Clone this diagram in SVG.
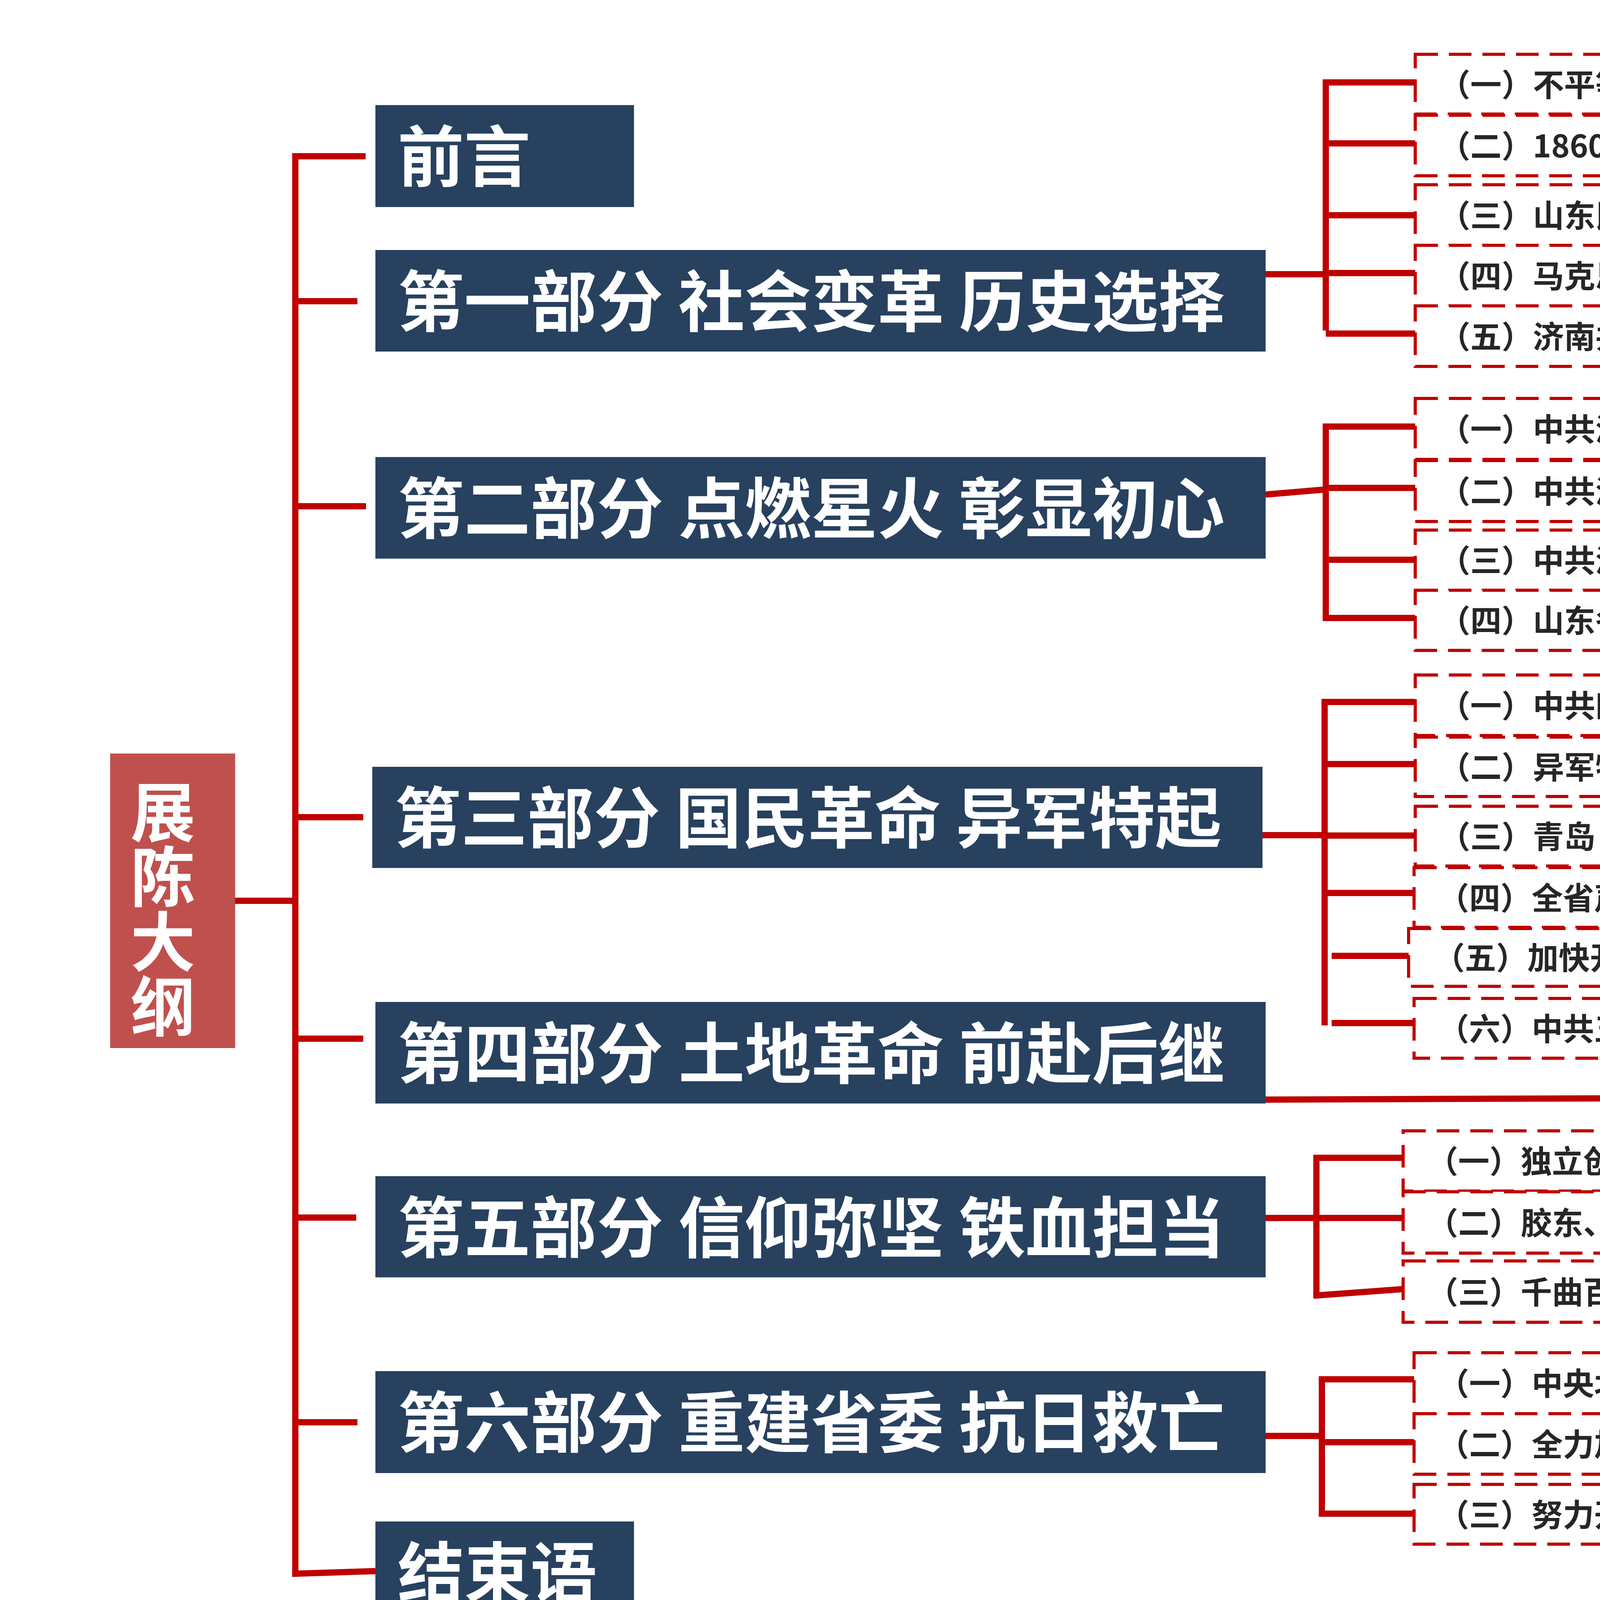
<svg xmlns="http://www.w3.org/2000/svg" width="7681" height="4320" viewBox="0 0 7681 4320">
<style>
.hdr{fill:#27415F}
.ht{font-family:"Noto Sans CJK SC","Noto Sans",sans-serif;font-weight:700;font-size:170px;fill:#FFFFFF}
.root{fill:#C0504D}
.rt{font-family:"Noto Sans CJK SC","Noto Sans",sans-serif;font-weight:700;font-size:166px;fill:#FFFFFF;writing-mode:vertical-rl}
.sub{fill:#FFFFFF;stroke:#C00000;stroke-width:8;stroke-dasharray:58 28}
.st{font-family:"Noto Sans CJK SC","Noto Sans",sans-serif;font-weight:700;font-size:80px;fill:#262626}
.ln{stroke:#C00000;stroke-width:16;fill:none}
</style>
<rect width="7681" height="4320" fill="#FFFFFF"/>
<g id="connectors" class="ln">
<path d="M602,2306 H756"/>
<path d="M756,392 V4036"/>
<path d="M748,400 H936"/>
<path d="M756,771 H915"/>
<path d="M756,1296 H937"/>
<path d="M756,2092 H930"/>
<path d="M756,2659 H930"/>
<path d="M756,3117 H912"/>
<path d="M756,3641 H915"/>
<path d="M748,4029 L961,4022"/>
<path d="M3240,702 H3394"/>
<path d="M3394,203 V846"/>
<path d="M3386,211 H3623 M3394,367 H3623 M3394,551 H3623 M3394,699 H3623 M3394,854 H3623"/>
<path d="M3240,1266 L3394,1253"/>
<path d="M3394,1084 V1590"/>
<path d="M3386,1092 H3623 M3394,1249 H3623 M3394,1433 H3623 M3394,1582 H3623"/>
<path d="M3231,2138 H3391"/>
<path d="M3391,1789 V2625"/>
<path d="M3383,1797 H3623 M3391,1956 H3623 M3391,2139 H3623 M3391,2286 H3620 M3409,2447 H3606 M3409,2619 H3620"/>
<path d="M3240,2815 L5381,2807"/>
<path d="M5381,2384 V3050"/>
<path d="M5373,2399 H5602 M5381,2555 H5602 M5381,2740 H5602 M5381,2888 H5602 M5381,3042 H5602"/>
<path d="M3240,3118 H3370"/>
<path d="M3370,2956 V3320"/>
<path d="M3362,2964 H3592 M3370,3118 H3592 M3362,3317 L3592,3300"/>
<path d="M3240,3676 H3384"/>
<path d="M3384,3523 V3883"/>
<path d="M3376,3531 H3620 M3384,3692 H3620 M3376,3875 H3620"/>
</g>
<g id="root">
<rect class="root" x="282" y="1929" width="320" height="754"/>
<text class="rt" x="417" y="1995">展陈大纲</text>
</g>
<g id="h0"><rect class="hdr" x="961" y="269" width="662" height="261"/><text class="ht" x="1018" y="464">前言</text></g>
<g id="h1"><rect class="hdr" x="961" y="640" width="2279" height="260"/><text class="ht" x="1018" y="835">第一部分 社会变革 历史选择</text></g>
<g id="h2"><rect class="hdr" x="961" y="1170" width="2279" height="260"/><text class="ht" x="1018" y="1365">第二部分 点燃星火 彰显初心</text></g>
<g id="h3"><rect class="hdr" x="953" y="1963" width="2279" height="259"/><text class="ht" x="1010" y="2157">第三部分 国民革命 异军特起</text></g>
<g id="h4"><rect class="hdr" x="961" y="2565" width="2279" height="260"/><text class="ht" x="1018" y="2760">第四部分 土地革命 前赴后继</text></g>
<g id="h5"><rect class="hdr" x="961" y="3011" width="2279" height="259"/><text class="ht" x="1018" y="3206">第五部分 信仰弥坚 铁血担当</text></g>
<g id="h6"><rect class="hdr" x="961" y="3510" width="2279" height="261"/><text class="ht" x="1018" y="3705">第六部分 重建省委 抗日救亡</text></g>
<g id="h7"><rect class="hdr" x="961" y="3895" width="662" height="261"/><text class="ht" x="1018" y="4090">结束语</text></g>
<g id="s1-1"><rect class="sub" x="3623" y="139" width="1714" height="153"/><text class="st" x="3684" y="246">（一）不平等条约下的经济社会</text></g>
<g id="s1-2"><rect class="sub" x="3623" y="295" width="1714" height="155"/><text class="st" x="3684" y="403">（二）1860年以来的山东工人阶级</text></g>
<g id="s1-3"><rect class="sub" x="3623" y="473" width="1714" height="155"/><text class="st" x="3684" y="581">（三）山东民众的“五四新觉醒”</text></g>
<g id="s1-4"><rect class="sub" x="3623" y="628" width="1714" height="155"/><text class="st" x="3684" y="736">（四）马克思主义在山东的传播</text></g>
<g id="s1-5"><rect class="sub" x="3623" y="783" width="1714" height="155"/><text class="st" x="3684" y="891">（五）济南共产党早期组织的创建</text></g>
<g id="s2-1"><rect class="sub" x="3623" y="1020" width="1714" height="156"/><text class="st" x="3684" y="1128">（一）中共济南党组织建立初期的活动</text></g>
<g id="s2-2"><rect class="sub" x="3623" y="1179" width="1714" height="156"/><text class="st" x="3684" y="1287">（二）中共济南支部开展工运青运</text></g>
<g id="s2-3"><rect class="sub" x="3623" y="1357" width="1714" height="154"/><text class="st" x="3684" y="1464">（三）中共济南地执委的建立及革命运动</text></g>
<g id="s2-4"><rect class="sub" x="3623" y="1511" width="1714" height="154"/><text class="st" x="3684" y="1618">（四）山东各地中共党组织建立</text></g>
<g id="s3-1"><rect class="sub" x="3623" y="1728" width="1711" height="155"/><text class="st" x="3684" y="1836">（一）中共四大与山东地方执行委员会建立</text></g>
<g id="s3-2"><rect class="sub" x="3623" y="1887" width="1711" height="152"/><text class="st" x="3684" y="1993">（二）异军特起的胶济铁路工人大罢工</text></g>
<g id="s3-3"><rect class="sub" x="3623" y="2064" width="1711" height="153"/><text class="st" x="3684" y="2171">（三）青岛日商纱厂工人三次同盟大罢工</text></g>
<g id="s3-4"><rect class="sub" x="3620" y="2221" width="1707" height="153"/><text class="st" x="3681" y="2328">（四）全省声援青沪惨案掀起反帝爱国运动</text></g>
<g id="s3-5"><rect class="sub" x="3606" y="2377" width="1721" height="148"/><text class="st" x="3670" y="2481">（五）加快开展农民工作迎接北伐革命</text></g>
<g id="s3-6"><rect class="sub" x="3620" y="2556" width="1707" height="153"/><text class="st" x="3681" y="2663">（六）中共五大与山东省委员会建立</text></g>
<g id="s4-1"><rect class="sub" x="5602" y="2326" width="1641" height="157"/><text class="st" x="5667" y="2435">（一）国民革命失败后1928年的山东政局</text></g>
<g id="s4-2"><rect class="sub" x="5602" y="2485" width="1641" height="155"/><text class="st" x="5667" y="2593">（二）中共山东省委发动第一次农民暴动</text></g>
<g id="s4-3"><rect class="sub" x="5602" y="2663" width="1641" height="154"/><text class="st" x="5667" y="2770">（三）中共山东省委领导城市工人学生运动</text></g>
<g id="s4-4"><rect class="sub" x="5602" y="2817" width="1641" height="155"/><text class="st" x="5667" y="2925">（四）中共山东省委领导第二次农民暴动</text></g>
<g id="s4-5"><rect class="sub" x="5602" y="2972" width="1641" height="155"/><text class="st" x="5667" y="3080">（五）中共山东省委连续遭受十次大破坏</text></g>
<g id="s5-1"><rect class="sub" x="3592" y="2895" width="1742" height="154"/><text class="st" x="3653" y="3002">（一）独立创建中共山东省工作委员会</text></g>
<g id="s5-2"><rect class="sub" x="3592" y="3051" width="1742" height="157"/><text class="st" x="3653" y="3160">（二）胶东、鲁北、鲁南党组织各自坚持斗争</text></g>
<g id="s5-3"><rect class="sub" x="3592" y="3228" width="1742" height="157"/><text class="st" x="3653" y="3337">（三）千曲百折寻找中共中央接续关系</text></g>
<g id="s6-1"><rect class="sub" x="3620" y="3463" width="1714" height="156"/><text class="st" x="3681" y="3571">（一）中央北方局决定重建中共山东省委</text></g>
<g id="s6-2"><rect class="sub" x="3620" y="3619" width="1714" height="155"/><text class="st" x="3681" y="3727">（二）全力加强党的思想、组织及干部建设</text></g>
<g id="s6-3"><rect class="sub" x="3620" y="3800" width="1714" height="153"/><text class="st" x="3681" y="3907">（三）努力开辟全省团结抗日工作新局面</text></g>
</svg>
